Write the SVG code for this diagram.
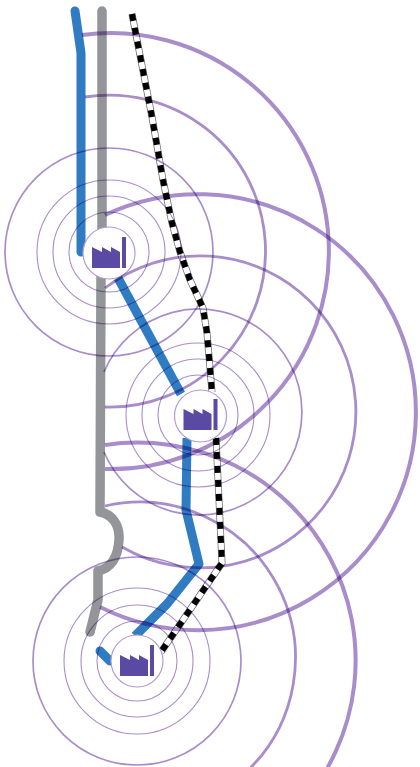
<svg xmlns="http://www.w3.org/2000/svg" width="420" height="767" viewBox="0 0 420 767">
<style>
.bg{fill:#fff}
.blue,.gray,.d0,.d1,.d2,.w,.r1,.r2,.r3,.r4{fill:none}
.blue{stroke:#2f7cc3;stroke-width:9;stroke-linejoin:round}
.gray{stroke:#939598;stroke-width:9.500;stroke-linecap:round;stroke-linejoin:round}
.d0{stroke:#6e6e6e;stroke-width:7}
.d1{stroke:#fff;stroke-width:5.500}
.d2{stroke:#000;stroke-width:6;stroke-dasharray:7 7}
.w{mix-blend-mode:multiply;stroke:#a98dcb}
.r1{stroke-width:4}.r2{stroke-width:2.800}.r3{stroke-width:1.700}.r4{stroke-width:1.100}
.c{fill:#fff;stroke:#b49ad2;stroke-width:1.200}
.i{fill:#5a4aa3}
</style>
<defs>
<g id="icon"><path class="i" d="M-17-6L-7-1V-6L2-1V-6L11-1V15H-17Z"/><rect class="i" x="13" y="-16" width="4" height="31"/></g>
</defs>
<rect class="bg" width="420" height="767"/>
<g id="connectors">
<path class="gray" d="M102 11V230"/>
<path class="gray" d="M101 275L100 512C112 514 120 525 119 540C118 556 112 568 98 571L98 600L90 632"/>
<path class="blue" stroke-linecap="round" d="M75 11L81 53V252"/>
<path class="blue" stroke-width="10" d="M118 278L181 394"/>
<path class="blue" d="M187 438L186 510L199 564L167 604L135 636"/>
<path class="blue" stroke-linecap="round" stroke-width="7" d="M100 651L110 661"/>
<g id="rail1"><path class="d0" d="M132 14L152 117L163 180L172 223L180 252L190 280L203 308L207 333L212 392"/><path class="d1" d="M132 14L152 117L163 180L172 223L180 252L190 280L203 308L207 333L212 392"/><path class="d2" d="M132 14L152 117L163 180L172 223L180 252L190 280L203 308L207 333L212 392"/></g>
<g id="rail2"><path class="d0" d="M216 438L219 500L222 563L161 652"/><path class="d1" d="M216 438L219 500L222 563L161 652"/><path class="d2" d="M216 438L219 500L222 563L161 652"/></g>
</g>
<g id="factory-1">
<path class="w r1" d="M82 35A218 218 0 1 1 105 469"/>
<path class="w r2" d="M85 97A156 156 0 1 1 105 407"/>
<circle class="w r3" cx="109" cy="252" r="104"/>
<circle class="w r4" cx="109" cy="252" r="72"/>
<circle class="w r4" cx="109" cy="252" r="56"/>
<circle class="w r4" cx="109" cy="252" r="40"/>
<circle class="c" cx="109" cy="253" r="26"/>
<use href="#icon" x="109" y="253"/>
</g>
<g id="factory-2">
<path class="w r1" d="M105 215A218 218 0 1 1 100 607"/>
<path class="w r2" d="M105 288A156 156 0 1 1 122 547"/>
<path class="w r3" d="M104 372A103 103 0 1 1 104 452"/>
<circle class="w r4" cx="198" cy="415" r="72"/>
<circle class="w r4" cx="198" cy="415" r="56"/>
<circle class="w r4" cx="198" cy="415" r="40"/>
<circle class="c" cx="200.500" cy="416" r="26"/>
<use href="#icon" x="200.500" y="415"/>
</g>
<g id="factory-3">
<path class="w r1" d="M105 445A218 218 0 0 1 300 806"/>
<path class="w r2" d="M105 506A156 156 0 0 1 245 773"/>
<circle class="w r3" cx="137" cy="661" r="104"/>
<circle class="w r4" cx="137" cy="661" r="73"/>
<circle class="w r4" cx="137" cy="661" r="56"/>
<circle class="w r4" cx="137" cy="661" r="40"/>
<circle class="c" cx="137" cy="661" r="26"/>
<use href="#icon" x="137" y="661"/>
</g>
</svg>
